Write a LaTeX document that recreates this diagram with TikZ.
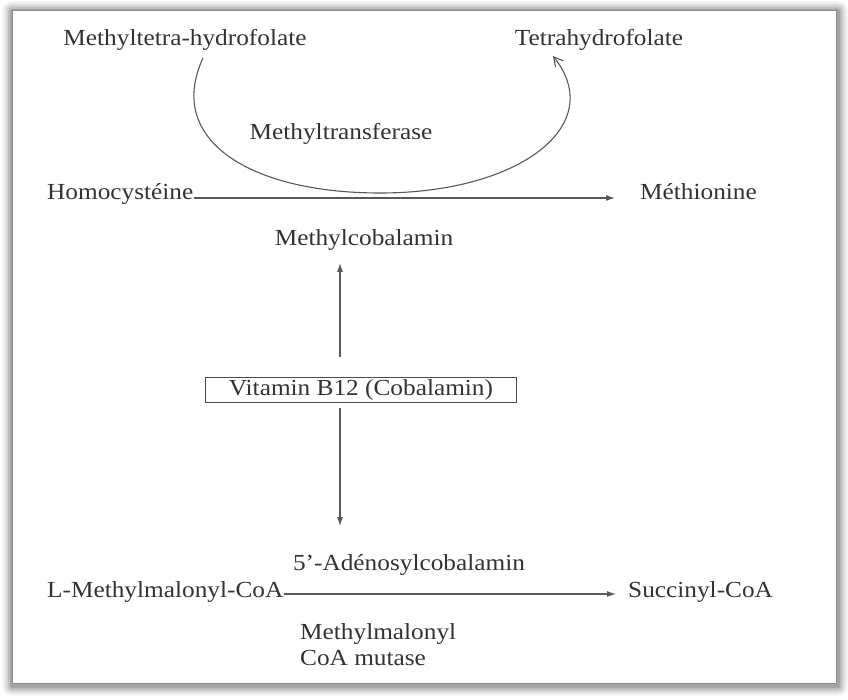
\documentclass[tikz,border=0pt]{standalone}
\usepackage{fontspec}
\setmainfont{Liberation Serif}[FakeStretch=1.1]
\usetikzlibrary{arrows.meta,calc}

\begin{document}
\begin{tikzpicture}[x=1pt,y=-1pt,
  lbl/.style={text=black!80,font=\fontsize{23}{26}\selectfont,inner sep=0pt},
  arr/.style={draw=black!65,line width=1.1pt,-{Latex[length=9pt,width=6pt]}},
  boxed/.style={lbl,draw=black!70,line width=1.3pt,minimum width=311pt,minimum height=25pt}]
\useasboundingbox (0,0) rectangle (848,700);
% frame with soft shadow
\foreach \s/\o in {10/0.04,8/0.06,6/0.08,4/0.1,2/0.14}
  \fill[black,opacity=\o,rounded corners=\s pt] (12-\s,11-\s) rectangle (836+\s+2,683+\s+3);
\fill[white] (12,11) rectangle (836,683);
\draw[black!45,line width=1pt] (12,11) rectangle (836,683);
% folate cycle
\node[lbl] (mthf) at (185,40) {Methyltetra-hydrofolate};
\node[lbl] (thf) at (599,40) {Tetrahydrofolate};
\node[lbl] (mtase) at (341,134) {Methyltransferase};
\coordinate (c1) at (203,58);
\coordinate (c2) at (553,56);
\draw[black!65,line width=1.1pt,-{Straight Barb[length=9pt,width=10pt]}]
  (c1) .. controls (165,140) and (250,193) .. (380,193)
       .. controls (520,193) and (608,125) .. (c2);
\node[lbl,anchor=base west] (homocys) at (47,200) {Homocystéine};
\node[lbl,anchor=base west] (methio) at (640,200) {Méthionine};
\draw[arr,shorten >=25pt] ([yshift=2pt]homocys.base east) -- ([yshift=2pt]methio.base west);
\node[lbl] (mecbl) at (364,240) {Methylcobalamin};
% vitamin B12
\node[boxed] (vitb12) at (361,390) {Vitamin B12 (Cobalamin)};
\coordinate (up1) at (340,357);
\coordinate (up2) at (340,263);
\coordinate (dn1) at (340,408);
\coordinate (dn2) at (340,526);
\draw[arr] (up1) -- (up2);
\draw[arr] (dn1) -- (dn2);
% methylmalonyl pathway
\node[lbl] (adocbl) at (409,565) {5'-Adénosylcobalamin};
\node[lbl,anchor=base west] (mmcoa) at (47,597) {L-Methylmalonyl-CoA};
\node[lbl,anchor=base west] (succoa) at (628,597) {Succinyl-CoA};
\draw[arr,shorten >=12pt] ([yshift=3pt]mmcoa.base east) -- ([yshift=3pt]succoa.base west);
\node[lbl,anchor=north west,align=left] (mutase) at (300,623) {Methylmalonyl\\CoA mutase};
\end{tikzpicture}
\end{document}
